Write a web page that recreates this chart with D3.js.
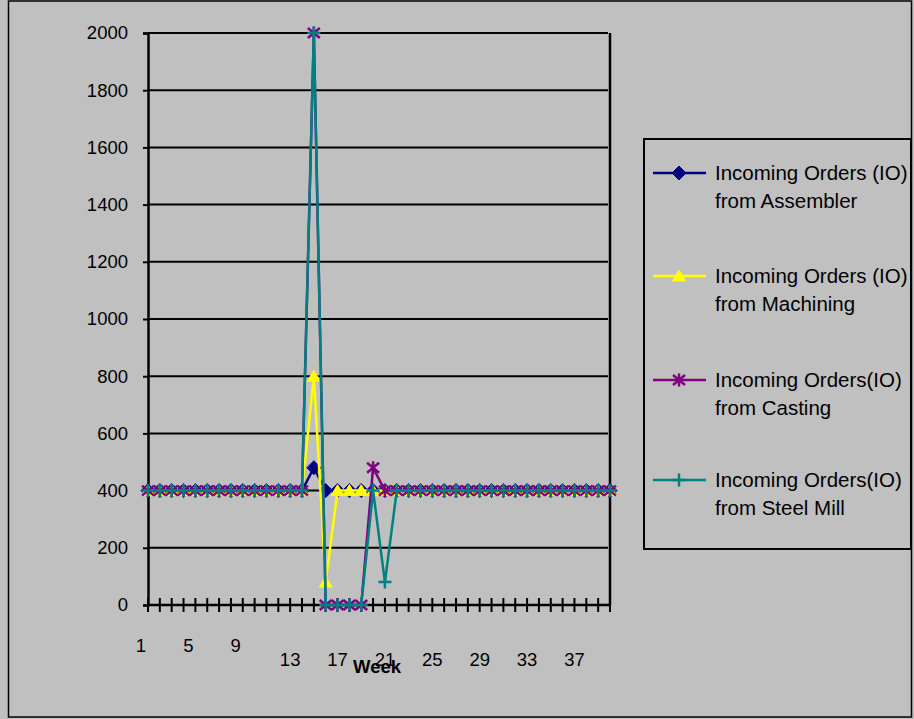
<!DOCTYPE html>
<html>
<head>
<meta charset="utf-8">
<script src="https://cdn.jsdelivr.net/npm/d3@7"></script>
<style>
  html, body { margin: 0; padding: 0; background: #c0c0c0; }
  svg { display: block; }
  text { font-family: Arial, "Liberation Sans", sans-serif; fill: #000; }
</style>
</head>
<body>
<svg id="chart" width="914" height="719"></svg>
<script>
// ---- data ----
const weeks = d3.range(1, 41);
const assembler = weeks.map(w => w === 15 ? 480 : 400);
const machining = weeks.map(w => w === 15 ? 800 : (w === 16 ? 80 : 400));
const casting = weeks.map(w => w === 15 ? 2000 : (w >= 16 && w <= 19 ? 0 : (w === 20 ? 480 : 400)));
const steelMill = weeks.map(w => w === 15 ? 2000 : (w >= 16 && w <= 19 ? 0 : (w === 21 ? 80 : 400)));
const seriesNames = [
  ["Incoming Orders (IO)", "from Assembler"],
  ["Incoming Orders (IO)", "from Machining"],
  ["Incoming Orders(IO)", "from Casting"],
  ["Incoming Orders(IO)", "from Steel Mill"]
];
const seriesColors = ["#000080", "#ffff00", "#800080", "#008080"];
const yTicks = d3.range(0, 2001, 200);
const xTickLabels = [1, 5, 9, 13, 17, 21, 25, 29, 33, 37];
const xTitle = "Week";

// ---- layout ----
const svg = d3.select("#chart");
const pLeft = 148, pRight = 610, pTop = 33, pBottom = 605;
const x = d3.scaleLinear().domain([1, 40]).range([pLeft, pRight]);
const y = d3.scaleLinear().domain([0, 2000]).range([pBottom, pTop]);

// outer border
svg.append("rect").attr("x", 8.5).attr("y", 1).attr("width", 903).attr("height", 716)
  .attr("fill", "#c0c0c0").attr("stroke", "#000").attr("stroke-width", 1.5);

// gridlines
svg.append("g").selectAll("line").data(yTicks.filter(v => v > 0)).join("line")
  .attr("x1", pLeft).attr("x2", pRight - 2)
  .attr("y1", d => y(d)).attr("y2", d => y(d))
  .attr("stroke", "#000").attr("stroke-width", 2);

// right border of plot
svg.append("line").attr("x1", pRight).attr("x2", pRight).attr("y1", pTop).attr("y2", pBottom)
  .attr("stroke", "#000").attr("stroke-width", 2.5);

// y axis
const yAxis = d3.axisLeft(y).tickValues(yTicks).tickSize(5).tickPadding(15).tickFormat(d3.format("d"));
const yg = svg.append("g").attr("transform", `translate(${pLeft},0)`).call(yAxis);
yg.select(".domain").attr("stroke", "#000").attr("stroke-width", 2.5);
yg.selectAll(".tick line").attr("stroke", "#000").attr("stroke-width", 2);
yg.selectAll(".tick text").attr("font-size", 18.5).attr("font-family", "Arial, 'Liberation Sans', sans-serif");

// x axis line and ticks
svg.append("line").attr("x1", pLeft).attr("x2", pRight).attr("y1", pBottom).attr("y2", pBottom)
  .attr("stroke", "#000").attr("stroke-width", 2.5);
svg.append("g").selectAll("line").data(weeks).join("line")
  .attr("x1", d => x(d)).attr("x2", d => x(d))
  .attr("y1", pBottom - 7).attr("y2", pBottom + 7)
  .attr("stroke", "#000").attr("stroke-width", 2);

// x labels (Excel-style staggered rows)
svg.append("g").selectAll("text").data(xTickLabels).join("text")
  .attr("x", d => x(d) + (d < 13 ? -7 : 0))
  .attr("y", d => d < 13 ? 652 : 666)
  .attr("text-anchor", "middle").attr("font-size", 18.5)
  .text(d => d);

// series
const allSeries = [assembler, machining, casting, steelMill];
const line = d3.line().x((d, i) => x(weeks[i])).y(d => y(d));

const markerPaths = [
  "M0,-7L7,0L0,7L-7,0Z",
  "M0,-6L6.5,5L-6.5,5Z",
  "M-6,-5L6,5M-6,5L6,-5M0,-6.5L0,6.5",
  "M-6.5,0L6.5,0M0,-6.5L0,6.5"
];
const filled = [true, true, false, false];

allSeries.forEach((vals, si) => {
  const g = svg.append("g");
  g.append("path").datum(vals).attr("d", line)
    .attr("fill", "none").attr("stroke", seriesColors[si]).attr("stroke-width", 2.5)
    .attr("stroke-linejoin", "round");
  g.selectAll("path.m").data(vals).join("path").attr("class", "m")
    .attr("transform", (d, i) => `translate(${x(weeks[i])},${y(d)})`)
    .attr("d", markerPaths[si])
    .attr("fill", filled[si] ? seriesColors[si] : "none")
    .attr("stroke", seriesColors[si])
    .attr("stroke-width", filled[si] ? 1 : 2.5);
});

// x title
svg.append("text").attr("x", 377).attr("y", 673).attr("text-anchor", "middle")
  .attr("font-size", 18.5).attr("font-weight", "bold").text(xTitle);

// legend
const lg = svg.append("g");
lg.append("rect").attr("x", 644).attr("y", 139).attr("width", 267).attr("height", 410)
  .attr("fill", "none").attr("stroke", "#000").attr("stroke-width", 2);
const legendY = [173, 276, 380, 480];
seriesNames.forEach((names, si) => {
  const ly = legendY[si];
  lg.append("line").attr("x1", 653).attr("x2", 706).attr("y1", ly).attr("y2", ly)
    .attr("stroke", seriesColors[si]).attr("stroke-width", 2.5);
  lg.append("path").attr("transform", `translate(679,${ly})`).attr("d", markerPaths[si])
    .attr("fill", filled[si] ? seriesColors[si] : "none")
    .attr("stroke", seriesColors[si]).attr("stroke-width", filled[si] ? 1 : 2.5);
  names.forEach((t, li) => {
    lg.append("text").attr("x", 715).attr("y", ly + 7 + li * 28)
      .attr("font-size", 20.5).text(t);
  });
});
</script>
</body>
</html>
